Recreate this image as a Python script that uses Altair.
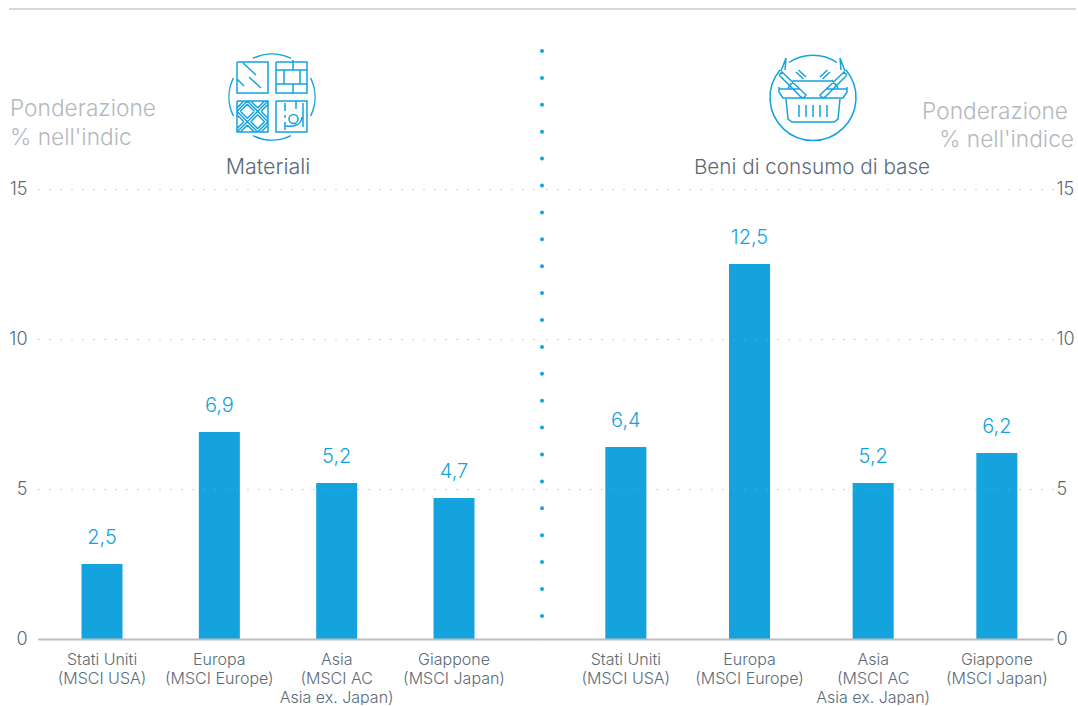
import altair as alt
import pandas as pd

# Sector weights in the regional equity indices
categories = [
    "Stati Uniti\n(MSCI USA)",
    "Europa\n(MSCI Europe)",
    "Asia\n(MSCI AC\nAsia ex. Japan)",
    "Giappone\n(MSCI Japan)",
]
materials = [2.5, 6.9, 5.2, 4.7]
staples = [6.4, 12.5, 5.2, 6.2]
y_ticks = [0, 5, 10, 15]

FONT = "Inter"
BLUE = "#14a3dd"
SLATE = "#5a6b77"
PALE = "#b4b9bc"


def line(*pts):
    return "M" + "L".join(f"{x} {y}" for x, y in pts)


def arc(x0, y0, x1, y1, r=43, large=0):
    return f"M{x0} {y0}A{r} {r} 0 {large} 1 {x1} {y1}"


def rect(x0, y0, x1, y1):
    return line((x0, y0), (x1, y0), (x1, y1), (x0, y1), (x0, y0))


def parquet(x0, y0, size, tiles):
    # Woven floor pattern: diagonal strokes changing direction tile by tile
    step = size / tiles
    parts = []
    for i in range(tiles):
        for j in range(tiles):
            ox, oy = x0 + i * step, y0 + j * step
            for d in (-3.4, 0, 3.4):
                c = step + d
                a, b = max(0, c - step), min(step, c)
                if (i + j) % 2 == 0:
                    pts = ((ox + a, oy + c - a), (ox + b, oy + c - b))
                else:
                    pts = ((ox + a, oy + step - c + a), (ox + b, oy + step - c + b))
                parts.append(line(*[(round(px, 1), round(py, 1)) for px, py in pts]))
    return "".join(parts)


materials_icon = "".join([
    arc(-19, -38.6, 19, -38.6), arc(38.6, -19, 38.6, 19),
    arc(19, 38.6, -19, 38.6), arc(-38.6, 19, -38.6, -19),
    rect(-35, -35, -4, -4), rect(4, -35, 35, -4),
    rect(-35, 4, -4, 35), rect(4, 4, 35, 35),
    line((-29, -34), (-16, -22)), line((-35, -18), (-28, -11)), line((-23, -20), (-11, -9)),
    line((4, -27), (35, -27)), line((4, -13), (35, -13)),
    line((21, -37), (21, -27)), line((21, -13), (21, -4)),
    line((12, -27), (12, -13)), line((28, -27), (28, -13)),
    parquet(-35, 4, 31, 3),
    line((13, 6), (13, 14)), line((13, 18), (13, 21)), line((13, 25), (13, 33)),
    line((24, 4), (24, 12)), line((31, 6), (31, 30)),
    "M26 22A4.5 4.5 0 1 1 17 22A4.5 4.5 0 1 1 26 22",
    "M14 29C20 30 29 29 30 20",
])

staples_icon = "".join([
    arc(-24, -34.5, 24, -34.5, r=43),
    arc(33, -27, -33, -27, r=43, large=1),
    # handles
    line((-34, -22), (-31, -25), (-7, -2), (-9.5, 1), (-12, 0), (-34, -22)),
    line((34, -22), (31, -25), (7, -2), (9.5, 1), (12, 0), (34, -22)),
    line((-32, -26), (-27, -39), (-28, -27)),
    line((32, -26), (27, -39), (28, -27)),
    # rim and body
    line((-20, -16), (20, -16)),
    line((-34, -10), (-34, -5), (-30, 1), (30, 1), (34, -5), (34, -10)),
    line((-34, -8), (-14, -8)), line((14, -8), (34, -8)),
    line((-27, 2), (-25, 22), (-21, 25), (21, 25), (25, 22), (27, 2)),
    line((-25, -9), (-19, -17)), line((25, -9), (19, -17)),
    line((-14, 8), (-14, 20)), line((-7, 8), (-7, 20)), line((0, 8), (0, 20)),
    line((7, 8), (7, 20)), line((14, 8), (14, 20)),
    line((-17, -25), (-9.5, -18)), line((-14.5, -27), (-7, -20)),
    line((17, -25), (9.5, -18)), line((14.5, -27), (7, -20)),
])

HEIGHT = 630
Y_PER_UNIT = 30
y_scale = alt.Scale(domain=[0, HEIGHT / Y_PER_UNIT], nice=False, zero=False)
one_row = pd.DataFrame({"k": [0]})


def caption(text, x, y, size, color, align="center"):
    return alt.Chart(one_row).mark_text(
        text=text, font=FONT, fontSize=size, color=color, align=align,
        baseline="middle", fontWeight=300,
    ).encode(x=alt.value(x), y=alt.value(y))


def icon(path, x, y):
    # A path symbol of size 4 is drawn at one pixel per path unit
    return alt.Chart(one_row).mark_point(
        shape=path, size=4, filled=False, stroke=BLUE, strokeWidth=1.5, opacity=1,
    ).encode(x=alt.value(x), y=alt.value(y))


def bars(values, scale_opts, y_axis):
    df = pd.DataFrame({"cat": categories, "val": values})
    x = alt.X(
        "cat:N", sort=None, title=None, scale=alt.Scale(**scale_opts),
        axis=alt.Axis(
            labelExpr="split(datum.label, '\\n')", labelAngle=0, labelFont=FONT,
            labelFontWeight=300, labelFontSize=16, labelColor=SLATE, labelLineHeight=19,
            labelPadding=12, labelLimit=200, ticks=False, domainColor="#bdbdbd",
            domainWidth=2, zindex=1, grid=False,
        ),
    )
    y = alt.Y("val:Q", title=None, scale=y_scale, axis=y_axis)
    base = alt.Chart(df).encode(x=x, y=y)
    column = base.mark_bar(color=BLUE)
    text = base.transform_calculate(
        txt="replace(format(datum.val, '.1f'), '.', ',')"
    ).mark_text(
        font=FONT, fontSize=20, fontWeight=300, color=BLUE, baseline="middle", dy=-26
    ).encode(text="txt:N")
    return column + text


def y_axis(orient, pad):
    return alt.Axis(
        orient=orient, values=y_ticks, ticks=False, domain=False, labelFont=FONT,
        labelFontWeight=300, labelFontSize=18, labelColor=SLATE, labelPadding=pad,
        grid=True, gridColor="#a0a0a0", gridDash=[1, 10], gridWidth=1, zindex=1,
    )


left = alt.layer(
    bars(materials,
         dict(paddingInner=0.6506, paddingOuter=0.473, align=0.392),
         y_axis("left", 11)),
    alt.Chart(one_row).mark_rule(color="#cfcbc6", strokeWidth=1.5).encode(
        x=alt.value(-29), x2=alt.value(1038), y=alt.value(0)
    ),
    alt.Chart(one_row).mark_rule(
        color=BLUE, strokeWidth=4, strokeCap="round", strokeDash=[0, 26.9]
    ).encode(x=alt.value(504), y=alt.value(42), y2=alt.value(609)),
    caption("Ponderazione", -28, 100, 22.7, PALE, "left"),
    caption("% nell'indic", -28, 129, 22.7, PALE, "left"),
    caption("Materiali", 230, 159, 21.5, SLATE),
    icon(materials_icon, 234, 88),
).properties(width=504, height=HEIGHT)

right = alt.layer(
    bars(staples,
         dict(paddingInner=0.668, paddingOuter=0.400, align=0.64),
         y_axis("right", 3)),
    caption("Ponderazione", 526, 103, 22.7, PALE, "right"),
    caption("% nell'indice", 532, 131, 22.7, PALE, "right"),
    caption("Beni di consumo di base", 270, 159, 20.7, SLATE),
    icon(staples_icon, 271, 88),
).properties(width=511, height=HEIGHT)

chart = alt.hconcat(left, right, spacing=0, bounds="flush").properties(
    padding={"left": 8, "top": 8, "right": 0, "bottom": 0},
    background="white",
).configure_view(stroke=None)

chart.save("out.html", embed_options={"renderer": "svg", "actions": False})
